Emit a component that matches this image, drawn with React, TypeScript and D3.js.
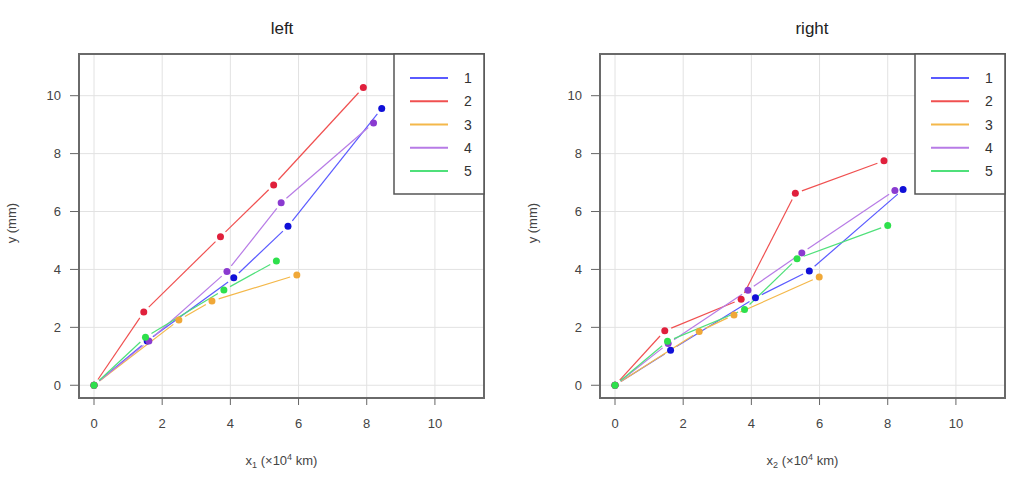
import React from "react";
import * as d3 from "d3";

// series labels + colours (line colour, point colour)
const seriesNames = ["1", "2", "3", "4", "5"];
const lineColors = ["#5a5aff", "#f05050", "#f4b84a", "#b77be6", "#4fe07a"];
const pointColors = ["#1010d8", "#e0203c", "#f0a838", "#8a3ad0", "#2ee04c"];

const ticks = [0, 2, 4, 6, 8, 10];

// left panel: x1 (x10^4 km) vs y (mm)
const leftX = [
  [0, 1.56, 4.1, 5.69, 8.44],
  [0, 1.46, 3.71, 5.27, 7.9],
  [0, 2.49, 3.46, 5.95],
  [0, 1.61, 3.9, 5.49, 8.2],
  [0, 1.51, 3.81, 5.35],
];
const leftY = [
  [0, 1.53, 3.71, 5.49, 9.56],
  [0, 2.53, 5.13, 6.92, 10.28],
  [0, 2.25, 2.91, 3.81],
  [0, 1.53, 3.93, 6.3, 9.06],
  [0, 1.66, 3.29, 4.29],
];

// right panel: x2 (x10^4 km) vs y (mm)
const rightX = [
  [0, 1.63, 4.12, 5.7, 8.45],
  [0, 1.46, 3.7, 5.29, 7.89],
  [0, 2.47, 3.49, 5.99],
  [0, 1.56, 3.9, 5.48, 8.21],
  [0, 1.54, 3.8, 5.34, 8.0],
];
const rightY = [
  [0, 1.21, 3.02, 3.95, 6.76],
  [0, 1.88, 2.97, 6.63, 7.75],
  [0, 1.86, 2.43, 3.74],
  [0, 1.44, 3.28, 4.57, 6.73],
  [0, 1.52, 2.62, 4.37, 5.52],
];

const font = "'Liberation Sans', Arial, sans-serif";

function Panel({ left, title, sub, xs, ys, titleX }) {
  const w = 405;
  const top = 54;
  const h = 344;
  const x = d3.scaleLinear().domain([-0.44, 11.44]).range([left, left + w]);
  const y = d3.scaleLinear().domain([-0.44, 11.44]).range([top + h, top]);
  const gap = 7;

  // type "b" style: segments stop short of each point
  const segments = [];
  xs.forEach((sx, i) => {
    for (let k = 0; k < sx.length - 1; k++) {
      const x1 = x(sx[k]), y1 = y(ys[i][k]);
      const x2 = x(sx[k + 1]), y2 = y(ys[i][k + 1]);
      const len = Math.hypot(x2 - x1, y2 - y1);
      if (len <= 2 * gap) continue;
      const ux = (x2 - x1) / len, uy = (y2 - y1) / len;
      segments.push({
        key: `${i}-${k}`,
        i,
        x1: x1 + ux * gap, y1: y1 + uy * gap,
        x2: x2 - ux * gap, y2: y2 - uy * gap,
      });
    }
  });

  const legLeft = left + w - 90;
  const legRow = d3.scalePoint().domain(seriesNames).range([78, 171]);

  return (
    <g fontFamily={font}>
      <text x={titleX} y={34} textAnchor="middle" fontSize={17} fill="#222"
        fontFamily="'Liberation Sans Narrow', 'Liberation Sans', sans-serif">{title}</text>
      {/* grid */}
      {ticks.map((t) => (
        <g key={`g${t}`}>
          <line x1={x(t)} x2={x(t)} y1={top} y2={top + h} stroke="#e2e2e2" strokeWidth={1} />
          <line x1={left} x2={left + w} y1={y(t)} y2={y(t)} stroke="#e2e2e2" strokeWidth={1} />
        </g>
      ))}
      {/* lines */}
      {segments.map((s) => (
        <line key={s.key} x1={s.x1} y1={s.y1} x2={s.x2} y2={s.y2}
          stroke={lineColors[s.i]} strokeWidth={1.2} />
      ))}
      {xs.map((sx, i) =>
        sx.map((v, k) => (
          <circle key={`p${i}-${k}`} cx={x(v)} cy={y(ys[i][k])} r={3.5} fill={pointColors[i]} />
        ))
      )}
      {/* box */}
      <rect x={left} y={top} width={w} height={h} fill="none" stroke="#6a6a6a" strokeWidth={2} />
      {/* x axis */}
      {ticks.map((t) => (
        <g key={`x${t}`}>
          <line x1={x(t)} x2={x(t)} y1={top + h} y2={top + h + 7} stroke="#666" />
          <text x={x(t)} y={top + h + 30} textAnchor="middle" fontSize={13} fill="#444">{t}</text>
        </g>
      ))}
      {/* y axis */}
      {ticks.map((t) => (
        <g key={`y${t}`}>
          <line x1={left - 9} x2={left} y1={y(t)} y2={y(t)} stroke="#666" />
          <text x={left - 18} y={y(t) + 4.5} textAnchor="end" fontSize={13} fill="#444">{t}</text>
        </g>
      ))}
      <text x={left + w / 2} y={465} textAnchor="middle" fontSize={13} fill="#444">
        x<tspan fontSize={9} dy={3}>{sub}</tspan>
        <tspan dy={-3}> (×10</tspan>
        <tspan fontSize={9} dy={-5}>4</tspan>
        <tspan dy={5}> km)</tspan>
      </text>
      <text transform={`translate(${left - 63},${y(5.6)}) rotate(-90)`} textAnchor="middle"
        fontSize={13} fill="#444">y (mm)</text>
      {/* legend */}
      <rect x={legLeft} y={top} width={90} height={140} fill="#fff" stroke="#555" strokeWidth={1.5} />
      {seriesNames.map((n, i) => (
        <g key={`l${n}`}>
          <line x1={legLeft + 16} x2={legLeft + 54} y1={legRow(n)} y2={legRow(n)}
            stroke={lineColors[i]} strokeWidth={2} />
          <text x={legLeft + 74} y={legRow(n) + 5} textAnchor="middle" fontSize={14} fill="#333">{n}</text>
        </g>
      ))}
    </g>
  );
}

export default function App() {
  return (
    <svg width={1015} height={483} style={{ position: "absolute", left: 0, top: 0, background: "#fff" }}>
      <rect width={1015} height={483} fill="#fff" />
      <Panel left={79} title="left" sub="1" xs={leftX} ys={leftY} titleX={282} />
      <Panel left={600} title="right" sub="2" xs={rightX} ys={rightY} titleX={812} />
    </svg>
  );
}
